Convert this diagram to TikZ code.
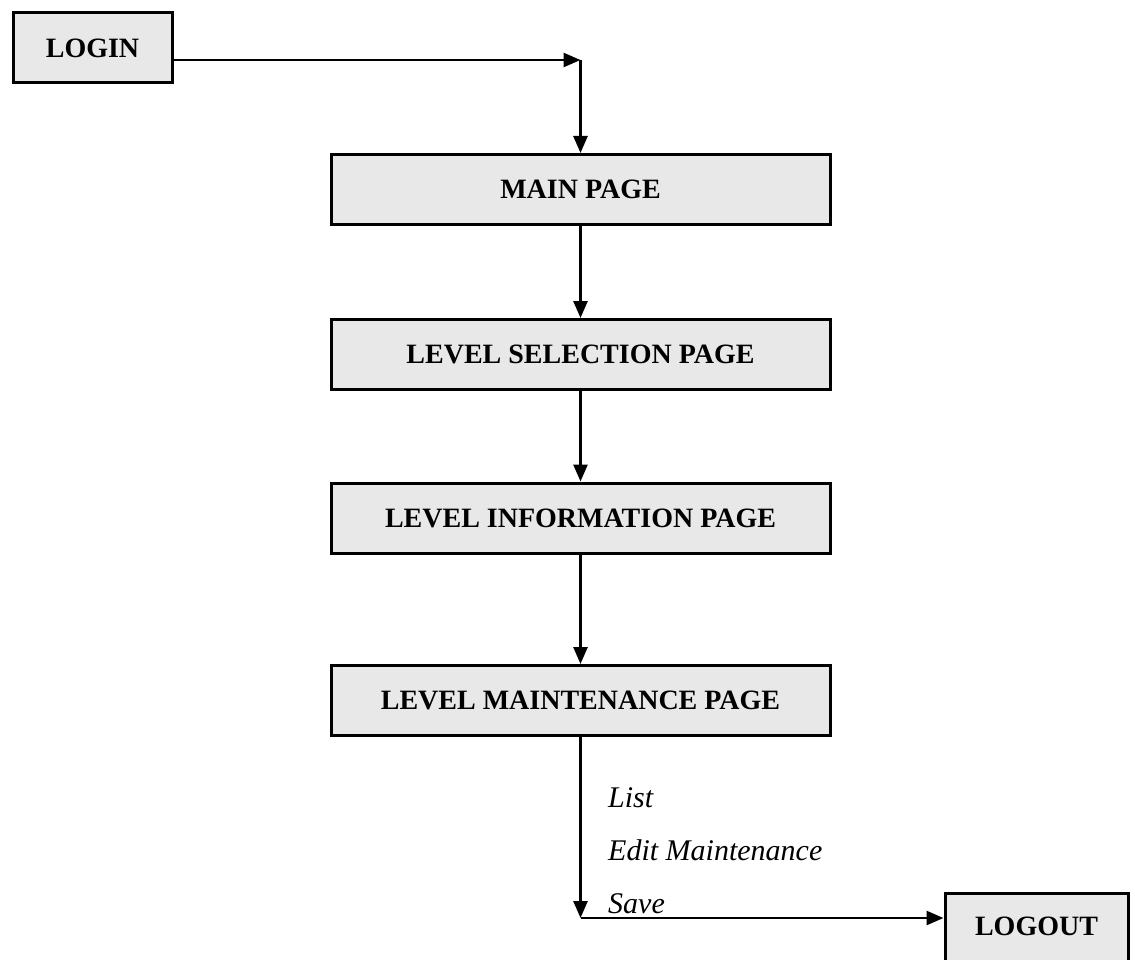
\documentclass[tikz,border=0pt]{standalone}
\usepackage{fontspec}
\setmainfont{Liberation Serif}
\usepackage{tikz}
\usetikzlibrary{arrows.meta,positioning}

\tikzset{
  pagebox/.style={draw, line width=3pt, fill=black!9, minimum width=499pt,
    minimum height=70pt, inner sep=0pt, font=\fontsize{28}{32}\selectfont\bfseries},
  endbox/.style={pagebox, minimum width=159pt},
  flow/.style={line width=2.6pt, -{Triangle[length=17pt,width=14pt]}},
  actionlabel/.style={anchor=base west, inner sep=0pt, font=\fontsize{30}{36}\selectfont\itshape}
}

\begin{document}
\begin{tikzpicture}[x=1pt, y=-1pt]
    \useasboundingbox (0,0) rectangle (1135,960);

    % Pages
    \node[endbox] (login) at (92.5,48) {LOGIN};
    \node[pagebox] (main) at (580.5,189.5) {MAIN PAGE};
    \node[pagebox] (levsel) at (580.5,354.5) {LEVEL SELECTION PAGE};
    \node[pagebox] (levinfo) at (580.5,518) {LEVEL INFORMATION PAGE};
    \node[pagebox] (levmaint) at (580.5,700.5) {LEVEL MAINTENANCE PAGE};
    \node[endbox, minimum width=183pt, minimum height=74pt] (logout) at (1036.5,930) {\raisebox{8pt}{LOGOUT}};

    \coordinate (corner) at (580.5,60);
    \coordinate (bend) at (580.5,918);

    \draw[flow] (login.east |- corner) -- (corner);
    \draw[flow] (corner) -- (main.north);
    \draw[flow] (main.south) -- (levsel.north);
    \draw[flow] (levsel.south) -- (levinfo.north);
    \draw[flow] (levinfo.south) -- (levmaint.north);
    \draw[flow] (levmaint.south) -- (bend);
    \draw[flow] (bend) -- (logout.west |- bend);

    % Actions
    \node[actionlabel] (list) at (608,807) {List};
    \node[actionlabel] (edit) at (608,860) {Edit Maintenance};
    \node[actionlabel] (save) at (608,913) {Save};
\end{tikzpicture}
\end{document}
